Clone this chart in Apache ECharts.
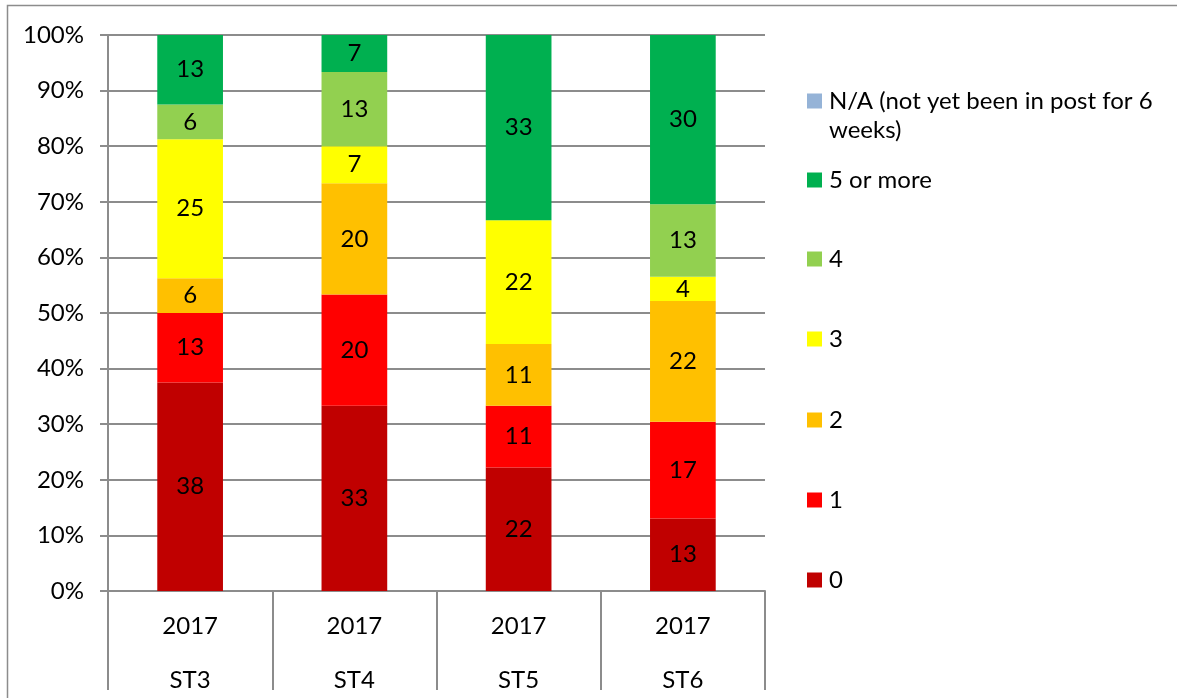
<!DOCTYPE html>
<html>
<head>
<meta charset="utf-8">
<script src="https://cdn.jsdelivr.net/npm/echarts@6/dist/echarts.min.js"></script>
<style>html,body{margin:0;padding:0;background:#fff}#c{width:1177px;height:698px}</style>
</head>
<body>
<div id="c"></div>
<script>
const categories = ['ST3', 'ST4', 'ST5', 'ST6'];
const years = ['2017', '2017', '2017', '2017'];
const seriesNames = ['0', '1', '2', '3', '4', '5 or more', 'N/A (not yet been in post for 6 weeks)'];
const v0 = [37.5, 33.33, 22.22, 13.04];
const v1 = [12.5, 20.0, 11.11, 17.39];
const v2 = [6.25, 20.0, 11.11, 21.74];
const v3 = [25.0, 6.67, 22.22, 4.35];
const v4 = [6.25, 13.33, 0, 13.04];
const v5 = [12.5, 6.67, 33.33, 30.43];
const vNA = [0, 0, 0, 0];
const colors = ['#C00000', '#FF0000', '#FFC000', '#FFFF00', '#92D050', '#00B050', '#95B3D7'];
const yTicks = [0, 10, 20, 30, 40, 50, 60, 70, 80, 90, 100];

const FONT = 'Lato';
const FS = 24;
const values = [v0, v1, v2, v3, v4, v5, vNA];

const series = values.map((vals, i) => ({
  name: seriesNames[i],
  type: 'bar',
  stack: 'total',
  barWidth: '40%',
  data: vals,
  itemStyle: { color: colors[i] },
  label: {
    show: i < 6,
    position: 'inside',
    color: '#000',
    fontFamily: FONT,
    fontSize: FS,
    formatter: p => (p.value > 0 ? String(Math.round(p.value)) : '')
  },
  emphasis: { disabled: true }
}));

const legendCenters = [101, 180, 259, 339, 420, 500, 580];
const legendOrder = [6, 5, 4, 3, 2, 1, 0];
const LH = 29;
const legends = legendOrder.map((si, k) => {
  const isNA = si === 6;
  const h = isNA ? LH * 3 : LH;
  return {
    orient: 'vertical',
    left: 807,
    top: legendCenters[k] - h / 2,
    padding: 0,
    itemWidth: 15,
    itemHeight: 15,
    icon: 'rect',
    selectedMode: false,
    data: [seriesNames[si]],
    formatter: isNA ? () => '\nN/A (not yet been in post for 6\nweeks)' : undefined,
    textStyle: { fontFamily: FONT, fontSize: FS, color: '#000', lineHeight: LH, padding: [0, 0, 0, 2] }
  };
});

const chart = echarts.init(document.getElementById('c'), null, { renderer: 'canvas' });
chart.setOption({
  animation: false,
  backgroundColor: '#fff',
  textStyle: { fontFamily: FONT },
  graphic: [{
    type: 'rect',
    shape: { x: 7.5, y: 5.5, width: 1300, height: 1000 },
    style: { fill: 'none', stroke: '#8c8c8c', lineWidth: 1.5 },
    silent: true
  }],
  grid: { left: 108, right: 412, top: 35, bottom: 107, containLabel: false, outerBoundsMode: 'none' },
  legend: legends,
  xAxis: {
    type: 'category',
    data: categories,
    boundaryGap: true,
    axisLine: { show: true, lineStyle: { color: '#8c8c8c', width: 2 } },
    axisTick: { show: true, alignWithLabel: false, interval: 0, length: 99, lineStyle: { color: '#8c8c8c', width: 2 } },
    axisLabel: {
      interval: 0,
      margin: 8,
      color: '#000',
      fontFamily: FONT,
      fontSize: FS,
      lineHeight: 54,
      formatter: (val, idx) => years[idx] + '\n' + val
    },
    splitLine: { show: false }
  },
  yAxis: {
    type: 'value',
    min: 0,
    max: 100,
    interval: 10,
    axisLine: { show: true, lineStyle: { color: '#8c8c8c', width: 2 } },
    axisTick: { show: true, length: 8, lineStyle: { color: '#8c8c8c', width: 2 } },
    axisLabel: {
      margin: 24,
      color: '#000',
      fontFamily: FONT,
      fontSize: FS,
      formatter: v => (yTicks.indexOf(v) >= 0 ? v + '%' : '')
    },
    splitLine: { show: true, lineStyle: { color: '#8c8c8c', width: 2 } }
  },
  series: series
});
</script>
</body>
</html>
